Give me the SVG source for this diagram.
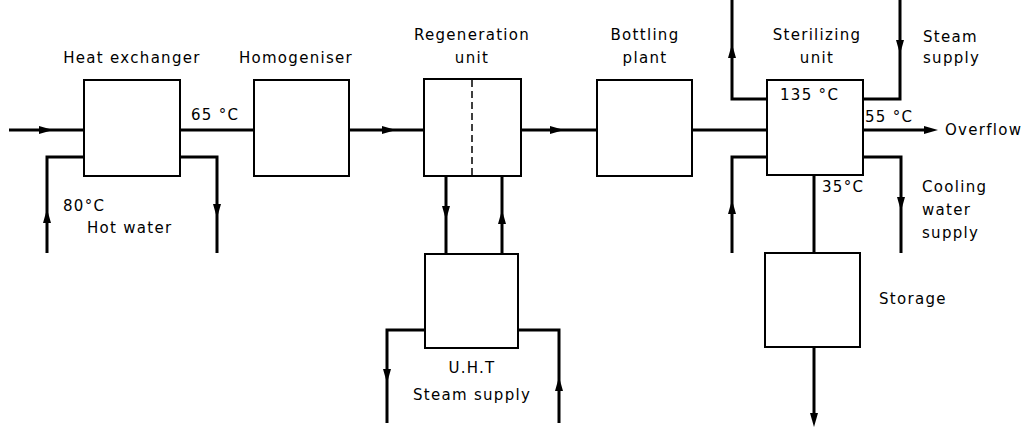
<svg xmlns="http://www.w3.org/2000/svg" xmlns:xlink="http://www.w3.org/1999/xlink" width="1025" height="429" viewBox="0 0 1025 429">
<style>
.box{fill:#fff;stroke:#000;stroke-width:2}
.flow{fill:none;stroke:#000;stroke-width:3;stroke-linejoin:miter}
.dash{fill:none;stroke:#000;stroke-width:1.5;stroke-dasharray:7,4}
text{font-family:"DejaVu Sans","Liberation Sans",sans-serif;font-size:15px;letter-spacing:1.3px;fill:#000}
.c{text-anchor:middle}
</style>
<defs>
<path id="ah" d="M-7,-4 L7,0 L-7,4 Z" fill="#000"/>
</defs>
<rect width="1025" height="429" fill="#fff"/>
<g id="connectors">
<path class="flow" d="M9,130 H84"/>
<path class="flow" d="M84,157 H47 V253"/>
<path class="flow" d="M180,157 H217 V253"/>
<path class="flow" d="M180,130 H254"/>
<path class="flow" d="M349,130 H424"/>
<path class="flow" d="M521,130 H597"/>
<path class="flow" d="M692,130 H767"/>
<path class="flow" d="M446,176 V254"/>
<path class="flow" d="M502,176 V254"/>
<path class="flow" d="M425,330 H387 V423"/>
<path class="flow" d="M518,330 H559 V423"/>
<path class="flow" d="M767,99 H732 V0"/>
<path class="flow" d="M863,99 H900 V0"/>
<path class="flow" d="M863,130 H930"/>
<path class="flow" d="M767,157 H732 V253"/>
<path class="flow" d="M863,157 H901 V253"/>
<path class="flow" d="M814,175 V253"/>
<path class="flow" d="M814,347 V418"/>
<use href="#ah" transform="translate(46,130)"/>
<use href="#ah" transform="translate(47,216) rotate(-90)"/>
<use href="#ah" transform="translate(217,211) rotate(90)"/>
<use href="#ah" transform="translate(389,130)"/>
<use href="#ah" transform="translate(557,130)"/>
<use href="#ah" transform="translate(446,213) rotate(90)"/>
<use href="#ah" transform="translate(502,217) rotate(-90)"/>
<use href="#ah" transform="translate(387,376) rotate(90)"/>
<use href="#ah" transform="translate(559,384) rotate(-90)"/>
<use href="#ah" transform="translate(732,51) rotate(-90)"/>
<use href="#ah" transform="translate(900,47) rotate(90)"/>
<use href="#ah" transform="translate(931,130)"/>
<use href="#ah" transform="translate(732,207) rotate(-90)"/>
<use href="#ah" transform="translate(901,204) rotate(90)"/>
<use href="#ah" transform="translate(814,420) rotate(90)"/>
</g>
<g id="heat-exchanger">
<rect class="box" x="84" y="80" width="96" height="96"/>
<text class="c" x="132" y="63">Heat exchanger</text>
</g>
<g id="homogeniser">
<rect class="box" x="254" y="80" width="95" height="96"/>
<text class="c" x="296" y="63">Homogeniser</text>
</g>
<g id="regeneration-unit">
<rect class="box" x="424" y="79" width="97" height="97"/>
<line class="dash" x1="472" y1="80" x2="472" y2="175"/>
<text class="c" x="472" y="40">Regeneration</text>
<text class="c" x="472" y="63">unit</text>
</g>
<g id="bottling-plant">
<rect class="box" x="597" y="80" width="95" height="96"/>
<text class="c" x="645" y="40">Bottling</text>
<text class="c" x="645" y="63">plant</text>
</g>
<g id="sterilizing-unit">
<rect class="box" x="767" y="80" width="96" height="95"/>
<text class="c" x="817" y="40">Sterilizing</text>
<text class="c" x="817" y="63">unit</text>
</g>
<g id="uht">
<rect class="box" x="425" y="254" width="93" height="94"/>
</g>
<g id="storage">
<rect class="box" x="765" y="253" width="95" height="94"/>
<text x="879" y="304">Storage</text>
</g>
<g id="labels">
<text x="191" y="120">65 °C</text>
<text x="63" y="211">80°C</text>
<text x="87" y="233">Hot water</text>
<text class="c" x="472" y="373">U.H.T</text>
<text class="c" x="472" y="400">Steam supply</text>
<text x="780" y="100">135 °C</text>
<text x="865" y="122">55 °C</text>
<text x="945" y="135">Overflow</text>
<text x="923" y="42">Steam</text>
<text x="923" y="63">supply</text>
<text x="822" y="192">35°C</text>
<text x="922" y="192">Cooling</text>
<text x="922" y="215">water</text>
<text x="922" y="238">supply</text>
</g>
</svg>
